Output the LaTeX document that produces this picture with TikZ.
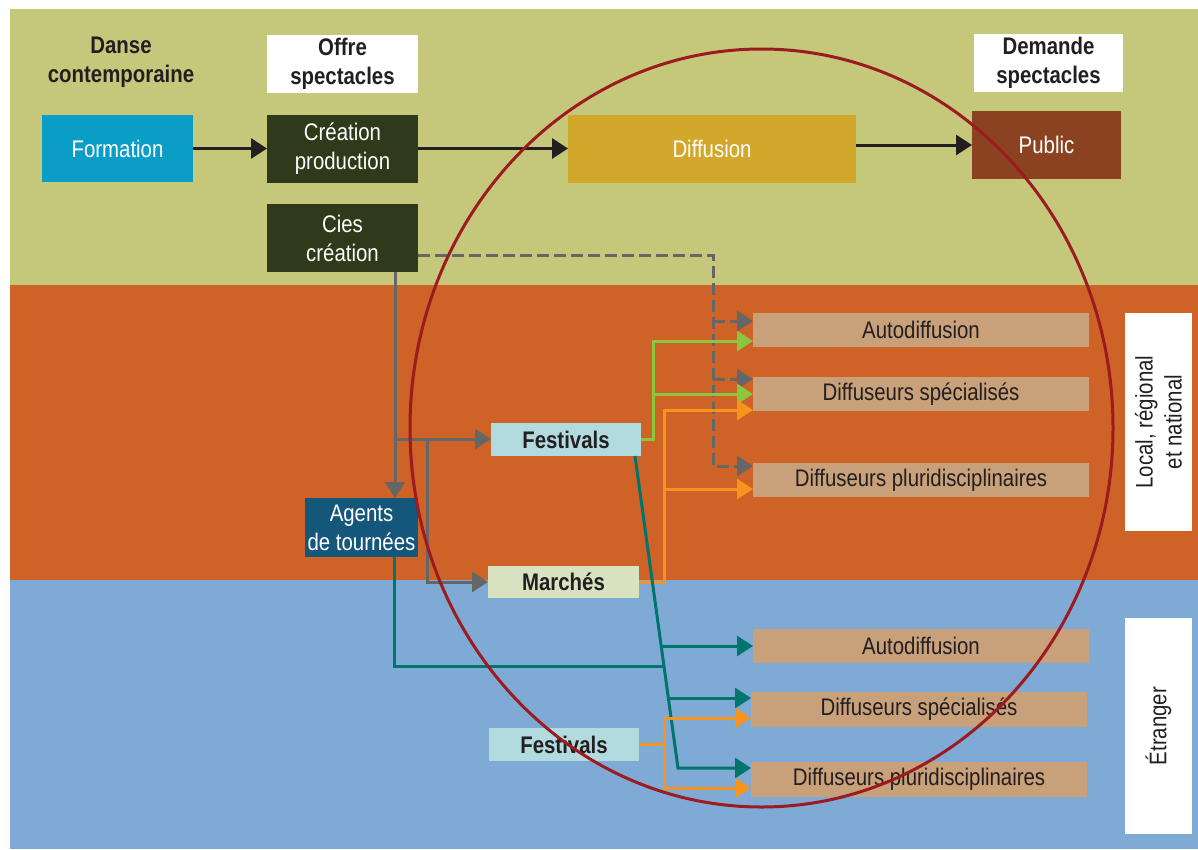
\documentclass[tikz,border=0pt]{standalone}
\usepackage{fontspec}
\setmainfont{Liberation Sans}[FakeStretch=0.85]
\usetikzlibrary{arrows.meta,calc}
\definecolor{bggreen}{HTML}{C5C77A}
\definecolor{bgorange}{HTML}{CE6227}
\definecolor{bgblue}{HTML}{7FAAD6}
\definecolor{cform}{HTML}{0A9EC7}
\definecolor{cdark}{HTML}{2E3A19}
\definecolor{cdiff}{HTML}{D2A72B}
\definecolor{cpub}{HTML}{8B4220}
\definecolor{ctan}{HTML}{C8A07A}
\definecolor{cfest}{HTML}{B2DBDF}
\definecolor{cmarch}{HTML}{D8E2C0}
\definecolor{cagent}{HTML}{14577A}
\definecolor{cgray}{HTML}{666666}
\definecolor{cgreen}{HTML}{8CC63F}
\definecolor{corange}{HTML}{F7941D}
\definecolor{cteal}{HTML}{00746D}
\definecolor{cred}{HTML}{9B1B20}
\definecolor{ctext}{HTML}{231F20}
\begin{document}
\begin{tikzpicture}[x=1pt,y=-1pt,
  box/.style={inner sep=0pt, outer sep=0pt, align=center, font=\fontsize{24}{29}\selectfont},
  darkbox/.style={box, fill=cdark, text=white},
  tanbox/.style={box, fill=ctan, text=ctext, minimum width=336pt, minimum height=34pt},
  boldbox/.style={box, text=ctext, font=\fontsize{24}{29}\selectfont\bfseries},
  arr/.style={line width=3pt, -{Triangle[length=16pt,width=20pt]}},
  plain/.style={line width=3pt},
  gdash/.style={line width=3pt, dash pattern=on 12pt off 5pt},
]
\useasboundingbox (0,0) rectangle (1198,849);
\fill[white] (0,0) rectangle (1198,849);
\fill[bggreen] (10,9) rectangle (1198,285);
\fill[bgorange] (10,285) rectangle (1198,580);
\fill[bgblue] (10,580) rectangle (1198,849);

% headers
\node[boldbox] (danse) at (121,62) {Danse\\contemporaine};
\node[boldbox, fill=white, minimum width=151pt, minimum height=58pt] (offre) at (342.5,64) {Offre\\spectacles};
\node[boldbox, fill=white, minimum width=149pt, minimum height=58pt] (demande) at (1048.5,63) {Demande\\spectacles};

% top row
\node[box, fill=cform, text=white, minimum width=151pt, minimum height=67pt] (formation) at (117.5,148.5) {Formation};
\node[darkbox, minimum width=151pt, minimum height=68pt] (creation) at (342.5,148.5) {Création\\production};
\node[darkbox, minimum width=151pt, minimum height=68pt] (cies) at (342.5,238) {Cies\\création};
\node[box, fill=cdiff, text=white, minimum width=288pt, minimum height=68pt] (diffusion) at (712,149) {Diffusion};
\node[box, fill=cpub, text=white, minimum width=149pt, minimum height=68pt] (public) at (1046.5,145) {Public};

% local targets
\node[tanbox] (auto1) at (921,330) {Autodiffusion};
\node[tanbox] (spec1) at (921,394) {Diffuseurs spécialisés};
\node[tanbox] (pluri1) at (921,480) {Diffuseurs pluridisciplinaires};
% foreign targets
\node[tanbox] (auto2) at (921,646) {Autodiffusion};
\node[tanbox, minimum height=35pt] (spec2) at (919,709.5) {Diffuseurs spécialisés};
\node[tanbox, minimum height=35pt] (pluri2) at (919,779.5) {Diffuseurs pluridisciplinaires};

% intermediaries
\node[boldbox, fill=cfest, minimum width=150pt, minimum height=33pt] (fest1) at (566,439.5) {Festivals};
\node[boldbox, fill=cmarch, minimum width=151pt, minimum height=32pt] (marches) at (563.5,582) {Marchés};
\node[boldbox, fill=cfest, minimum width=150pt, minimum height=33pt] (fest2) at (564,744.5) {Festivals};
\node[box, fill=cagent, text=white, minimum width=113pt, minimum height=59pt] (agents) at (361.5,527.5) {Agents\\de tournées};

% side labels
\node[box, fill=white, minimum width=67pt, minimum height=218pt] (local) at (1158.5,422) {};
\node[box, text=ctext, rotate=90] (localtxt) at (local.center) {Local, régional\\et national};
\node[box, fill=white, minimum width=67pt, minimum height=216pt] (etranger) at (1158.5,726) {};
\node[box, text=ctext, rotate=90] (etrtxt) at (etranger.center) {Étranger};

% black main chain
\draw[arr, ctext] (formation.east) -- (creation.west);
\draw[arr, ctext] (creation.east) -- (creation.east -| diffusion.west);
\draw[arr, ctext] (diffusion.east |- public.west) -- (public.west);

% dashed from Cies création
\coordinate (dtop) at (713,255);
\coordinate (d1) at (713,321);
\coordinate (d2) at (713,379);
\coordinate (dbot) at (713,466);
\draw[gdash, cgray, arr] (cies.east |- dtop) -- (dtop) -- (dbot) -- (dbot -| pluri1.west);
\draw[gdash, cgray, arr] (d1) -- (d1 -| auto1.west);
\draw[gdash, cgray, arr] (d2) -- (d2 -| spec1.west);

% gray solid from Cies création
\coordinate (gv) at (395,439);
\coordinate (gm) at (427,439);
\draw[arr, cgray] (cies.south -| gv) -- (gv |- agents.north);
\draw[arr, cgray] (gv) -- (gv -| fest1.west);
\draw[arr, cgray] (gm) -- (gm |- marches.west) -- (marches.west);

% green from Festivals (local)
\coordinate (gr) at (653,439.5);
\coordinate (gr1) at (653,341);
\coordinate (gr2) at (653,394);
\draw[arr, cgreen] (fest1.east) -- (gr) -- (gr1) -- (gr1 -| auto1.west);
\draw[arr, cgreen] (gr2) -- (gr2 -| spec1.west);

% orange from Marchés
\coordinate (or1) at (664,410);
\coordinate (or2) at (664,489);
\draw[arr, corange] (marches.east) -- (marches.east -| or1) -- (or1) -- (or1 -| spec1.west);
\draw[arr, corange] (or2) -- (or2 -| pluri1.west);

% teal from Festivals (local) to foreign
\coordinate (t0) at (635,456);
\coordinate (t1) at (661,646);
\coordinate (t2) at (668,698);
\coordinate (tj) at (664,666);
\coordinate (t3) at (678,768);
\coordinate (ta) at (394,666);
\draw[arr, cteal] (t0) -- (t3) -- (t3 -| pluri2.west);
\draw[arr, cteal] (t1) -- (t1 -| auto2.west);
\draw[arr, cteal] (t2) -- (t2 -| spec2.west);
\draw[plain, cteal] (agents.south -| ta) -- (ta) -- (tj);

% orange from Festivals (foreign)
\coordinate (ob1) at (664,718);
\coordinate (ob2) at (664,788);
\draw[arr, corange] (fest2.east) -- (fest2.east -| ob1) -- (ob1) -- (ob1 -| spec2.west);
\draw[arr, corange] (fest2.east -| ob2) -- (ob2) -- (ob2 -| pluri2.west);

% red circle
\draw[cred, line width=3pt] (761.5,428) ellipse [x radius=351.5pt, y radius=379pt];
\end{tikzpicture}
\end{document}
